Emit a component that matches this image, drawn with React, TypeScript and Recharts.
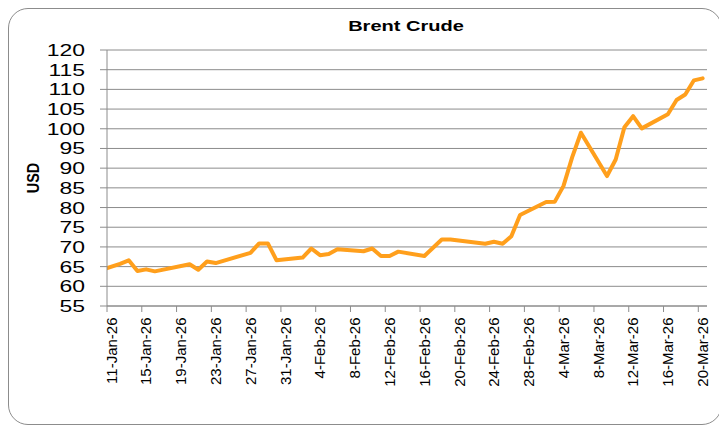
import React from 'react';
import { LineChart, Line, XAxis, YAxis, CartesianGrid } from 'recharts';

// Trading dates and Brent closes (USD)
const dates: string[] = [
  '2026-01-09', '2026-01-12', '2026-01-13', '2026-01-14', '2026-01-15', '2026-01-16',
  '2026-01-20', '2026-01-21', '2026-01-22', '2026-01-23', '2026-01-27', '2026-01-28',
  '2026-01-29', '2026-01-30', '2026-02-02', '2026-02-03', '2026-02-04', '2026-02-05',
  '2026-02-06', '2026-02-09', '2026-02-10', '2026-02-11', '2026-02-12', '2026-02-13',
  '2026-02-16', '2026-02-18', '2026-02-19', '2026-02-23', '2026-02-24', '2026-02-25',
  '2026-02-26', '2026-02-27', '2026-03-02', '2026-03-03', '2026-03-04', '2026-03-05',
  '2026-03-06', '2026-03-09', '2026-03-10', '2026-03-11', '2026-03-12', '2026-03-13',
  '2026-03-16', '2026-03-17', '2026-03-18', '2026-03-19', '2026-03-20',
];
const prices: number[] = [
  63.5, 65.7, 66.6, 63.9, 64.3, 63.8,
  65.6, 64.2, 66.3, 65.9, 68.5, 70.9,
  70.9, 66.6, 67.3, 69.6, 67.9, 68.2,
  69.4, 68.9, 69.6, 67.7, 67.7, 68.8,
  67.7, 71.9, 71.9, 70.8, 71.3, 70.8,
  72.7, 78.1, 81.4, 81.5, 85.5, 92.8,
  99.0, 88.0, 92.2, 100.4, 103.2, 100.1,
  103.7, 107.3, 108.7, 112.3, 112.8,
];
const yTicks: number[] = [55, 60, 65, 70, 75, 80, 85, 90, 95, 100, 105, 110, 115, 120];
const xTickDays: number[] = [0, 4, 8, 12, 16, 20, 24, 28, 32, 36, 40, 44, 48, 52, 56, 60, 64, 68];
const monthNames: string[] = ['Jan', 'Feb', 'Mar', 'Apr', 'May', 'Jun', 'Jul', 'Aug', 'Sep', 'Oct', 'Nov', 'Dec'];
const axisStart = Date.UTC(2026, 0, 11);
const axisDays = 69;

const DAY = 86400000;
const toDayCenter = (s: string) => {
  const [y, m, d] = s.split('-').map(Number);
  return (Date.UTC(y, m - 1, d) - axisStart) / DAY + 0.5;
};
const fmtDay = (n: number) => {
  const dt = new Date(axisStart + n * DAY);
  return `${dt.getUTCDate()}-${monthNames[dt.getUTCMonth()]}-${String(dt.getUTCFullYear()).slice(2)}`;
};

const data = dates.map((d, i) => ({ x: toDayCenter(d), v: prices[i] }));

const GRAY = '#8c8c8c';
const FONT = '"Liberation Sans", Arial, sans-serif';

const XTick = (props: any) => {
  const { x, y, payload } = props;
  return (
    <text
      transform={`translate(${x + 9.7},${y + 5.5}) rotate(-90)`}
      textAnchor="end"
      fontFamily={FONT}
      fontSize={15}
      fill="#000"
    >
      {fmtDay(payload.value)}
    </text>
  );
};

const YTick = (props: any) => {
  const { x, y, payload } = props;
  return (
    <text
      transform={`translate(${x},${y}) scale(1.35,1)`}
      textAnchor="end"
      dy="0.355em"
      fontFamily={FONT}
      fontSize={17}
      fill="#000"
    >
      {payload.value}
    </text>
  );
};

export default function App() {
  return (
    <div style={{ position: 'relative', width: 714, height: 417 }}>
      <div
        style={{
          position: 'absolute',
          left: 0,
          top: 0,
          width: 714,
          height: 417,
          border: `1px solid ${GRAY}`,
          borderRadius: 20,
          boxSizing: 'border-box',
          background: '#fff',
        }}
      />
      <div style={{ position: 'absolute', left: 0, top: 0 }}>
        <LineChart width={714} height={417} data={data} margin={{ top: 42, right: 15, bottom: 0, left: 0 }}>
          <CartesianGrid vertical={false} stroke={GRAY} strokeWidth={1} />
          <XAxis
            dataKey="x"
            type="number"
            domain={[0, axisDays]}
            ticks={xTickDays}
            interval={0}
            allowDataOverflow
            height={119}
            tickSize={6}
            tickMargin={0}
            axisLine={{ stroke: GRAY, strokeWidth: 1 }}
            tickLine={{ stroke: GRAY, strokeWidth: 1 }}
            tick={<XTick />}
          />
          <YAxis
            type="number"
            domain={[55, 120]}
            ticks={yTicks}
            interval={0}
            width={99}
            tickSize={7}
            tickMargin={15}
            axisLine={{ stroke: GRAY, strokeWidth: 1 }}
            tickLine={{ stroke: GRAY, strokeWidth: 1 }}
            tick={<YTick />}
          />
          <Line
            dataKey="v"
            type="linear"
            stroke="#FF9F1C"
            strokeWidth={4}
            strokeLinejoin="round"
            strokeLinecap="round"
            dot={false}
            activeDot={false}
            isAnimationActive={false}
          />
        </LineChart>
      </div>
      <svg
        width={714}
        height={417}
        style={{ position: 'absolute', left: 0, top: 0, pointerEvents: 'none' }}
      >
        <text
          transform="translate(398,22.7) scale(1.3,1)"
          textAnchor="middle"
          fontFamily={FONT}
          fontWeight="bold"
          fontSize={15.4}
          fill="#000"
        >
          Brent Crude
        </text>
        <text
          transform="translate(31.3,170) scale(1.2,1) rotate(-90)"
          textAnchor="middle"
          fontFamily={FONT}
          fontWeight="bold"
          fontSize={14.5}
          fill="#000"
        >
          USD
        </text>
      </svg>
    </div>
  );
}
